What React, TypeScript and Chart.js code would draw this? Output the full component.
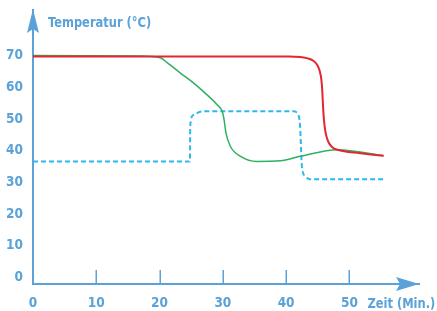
import React, { useEffect, useRef } from "react";
import { Chart, registerables } from "chart.js";
Chart.register(...registerables);

const xTickValues = [0, 10, 20, 30, 40, 50];
const yTickValues = [0, 10, 20, 30, 40, 50, 60, 70];

const redTime = [0, 40.5, 42.2, 43.3, 44.3, 44.9, 45.3, 45.55, 45.7, 45.8, 45.95, 46.2, 46.6, 47.3, 48.1, 51.7, 55.4];
const redTemp = [69.8, 69.8, 69.7, 69.3, 68.5, 67.2, 65.3, 62.8, 59.5, 55.5, 50.5, 46.2, 43.2, 41.2, 40.4, 39.3, 38.5];

const greenTime = [0, 17, 20.1, 21.2, 23.3, 25.4, 27.5, 29.1, 29.9, 30.2, 30.5, 31.2, 32.8, 35.4, 39.1, 42.2, 48.1, 55.4];
const greenTemp = [70.1, 70.0, 69.4, 67.9, 64.6, 61.4, 57.7, 54.6, 52.5, 49.8, 45.6, 41.4, 38.3, 36.7, 36.9, 38.3, 40.4, 38.5];

const blueTime = [0, 24.8, 24.85, 25.3, 26.7, 41.2, 42.0, 42.2, 42.5, 43.0, 43.8, 55.4];
const blueTemp = [36.7, 36.7, 48, 51.3, 52.5, 52.5, 51.0, 48, 35, 32, 31.1, 31.1];

const yTitle = "Temperatur (°C)";
const xTitle = "Zeit (Min.)";

const AXIS = "#5aa2d8";
const FONT = "'DejaVu Sans Condensed', 'DejaVu Sans', sans-serif";
const TICK_SIZE = 13.5;
const TITLE_SIZE = 14.5;
const TITLE_SQUEEZE = 0.88;

const pts = (xs: number[], ys: number[]) => xs.map((x, i) => ({ x, y: ys[i] }));

const drawSqueezed = (ctx: CanvasRenderingContext2D, text: string, x: number, y: number) => {
  ctx.save();
  ctx.translate(x, y);
  ctx.scale(TITLE_SQUEEZE, 1);
  ctx.fillText(text, 0, 0);
  ctx.restore();
};

const decor = {
  id: "decor",
  afterDraw(chart: any) {
    const { ctx, chartArea } = chart;
    const xs = chart.scales.x;
    const left = chartArea.left;
    const right = chartArea.right;
    const top = chartArea.top;
    const bottom = chartArea.bottom;
    ctx.save();
    ctx.strokeStyle = AXIS;
    ctx.fillStyle = AXIS;
    ctx.lineWidth = 1.5;
    xTickValues.forEach((v) => {
      if (v === 0) return;
      const px = Math.round(xs.getPixelForValue(v)) + 0.25;
      ctx.beginPath();
      ctx.moveTo(px, bottom);
      ctx.lineTo(px, bottom - 14);
      ctx.stroke();
    });
    // y arrow
    ctx.beginPath();
    ctx.moveTo(left, top - 1);
    ctx.lineTo(left + 6, top + 23);
    ctx.lineTo(left, top + 19);
    ctx.lineTo(left - 6, top + 23);
    ctx.closePath();
    ctx.fill();
    // x arrow
    ctx.beginPath();
    ctx.moveTo(right, bottom);
    ctx.lineTo(right - 23, bottom - 7);
    ctx.lineTo(right - 19, bottom);
    ctx.lineTo(right - 23, bottom + 7);
    ctx.closePath();
    ctx.fill();
    // titles
    ctx.font = `bold ${TITLE_SIZE}px ${FONT}`;
    ctx.textAlign = "left";
    ctx.textBaseline = "alphabetic";
    drawSqueezed(ctx, yTitle, left + 15, top + 17);
    drawSqueezed(ctx, xTitle, xs.getPixelForValue(50) + 18, bottom + 24);
    ctx.restore();
  },
};

export default function App() {
  const ref = useRef<HTMLCanvasElement | null>(null);
  useEffect(() => {
    document.body.style.margin = "0";
    const chart = new Chart(ref.current as HTMLCanvasElement, {
      type: "line",
      data: {
        datasets: [
          {
            data: pts(redTime, redTemp),
            borderColor: "#e3262f",
            borderWidth: 2,
            pointRadius: 0,
            cubicInterpolationMode: "monotone",
            fill: false,
          },
          {
            data: pts(greenTime, greenTemp),
            borderColor: "#2fb062",
            borderWidth: 1.5,
            pointRadius: 0,
            cubicInterpolationMode: "monotone",
            fill: false,
          },
          {
            data: pts(blueTime, blueTemp),
            borderColor: "#2fb8ee",
            borderWidth: 2,
            borderDash: [5, 3],
            pointRadius: 0,
            cubicInterpolationMode: "monotone",
            fill: false,
          },
        ],
      },
      options: {
        animation: false,
        responsive: true,
        maintainAspectRatio: false,
        layout: { padding: { top: 10, right: 18, left: 0, bottom: 0 } },
        plugins: { legend: { display: false }, tooltip: { enabled: false } },
        scales: {
          x: {
            type: "linear",
            min: 0,
            max: 61,
            grid: { display: false, drawTicks: false },
            border: { display: true, color: AXIS, width: 2 },
            afterBuildTicks: (axis: any) => {
              axis.ticks = xTickValues.map((v) => ({ value: v }));
            },
            afterFit: (scale: any) => {
              scale.height = 27;
              scale.paddingLeft = 0;
              scale.paddingRight = 0;
            },
            ticks: {
              padding: 11,
              color: AXIS,
              font: { family: FONT, size: TICK_SIZE, weight: "bold" },
              maxRotation: 0,
            },
          },
          y: {
            type: "linear",
            min: -2,
            max: 84.5,
            grid: { display: false, drawTicks: false },
            border: { display: true, color: AXIS, width: 2 },
            afterBuildTicks: (axis: any) => {
              axis.ticks = yTickValues.map((v) => ({ value: v }));
            },
            afterFit: (scale: any) => {
              scale.width = 33;
              scale.paddingTop = 0;
              scale.paddingBottom = 0;
            },
            ticks: {
              padding: 10,
              color: AXIS,
              font: { family: FONT, size: TICK_SIZE, weight: "bold" },
            },
          },
        },
      } as any,
      plugins: [decor],
    });
    return () => chart.destroy();
  }, []);
  return (
    <div style={{ width: 437, height: 311, position: "relative" }}>
      <canvas ref={ref} />
    </div>
  );
}
